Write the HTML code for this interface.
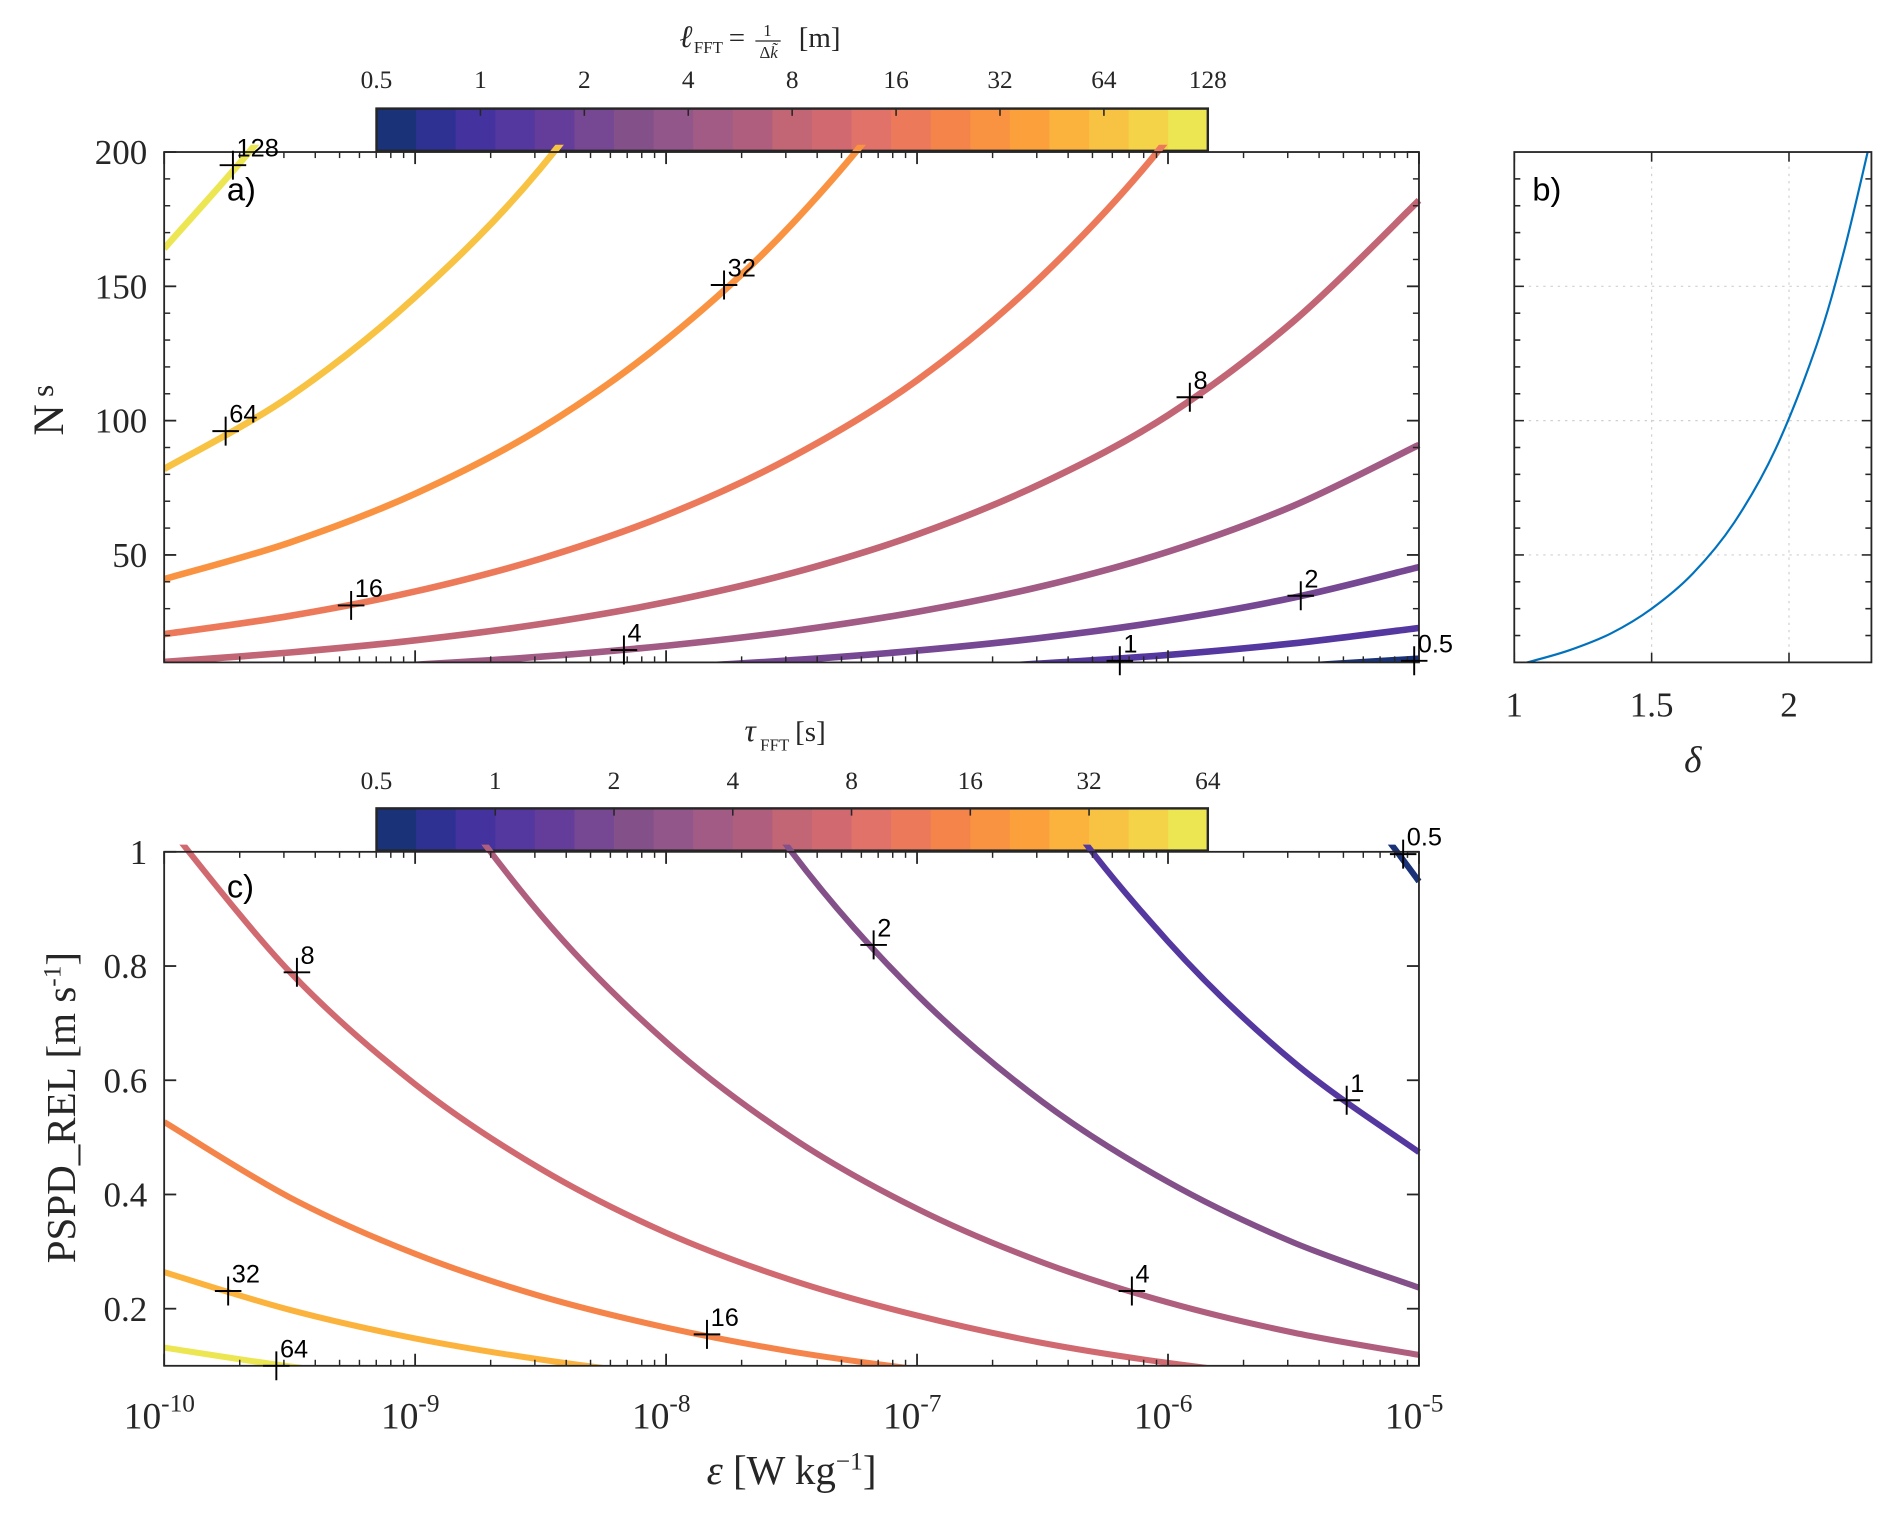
<!DOCTYPE html>
<html><head><meta charset="utf-8"><style>
html,body{margin:0;padding:0;background:#fff;}
svg{display:block;}
.serif{font-family:"Liberation Serif",serif;fill:#262626;}
.sans{font-family:"Liberation Sans",sans-serif;fill:#000;}
</style></head><body>
<svg id="fig" xmlns="http://www.w3.org/2000/svg" width="1892" height="1513" viewBox="0 0 1568 1254">
<rect x="0" y="0" width="1568" height="1254" fill="#fff"/>
<defs>
<clipPath id="clipA"><rect x="136" y="120" width="1044" height="429"/></clipPath>
<clipPath id="clipC"><rect x="136" y="700" width="1044" height="432"/></clipPath>
<clipPath id="clipB"><rect x="1255" y="126" width="296" height="423"/></clipPath>
</defs>
<g id="gA"></g>
<g id="gB"></g>
<g id="gC"></g>
</svg>
<script>
// ---------- data ----------
const epsLog = [-10,-9.5,-9,-8.5,-8,-7.5,-7,-6.5,-6,-5.5,-5];
const ellLevels = [0.5,1,2,4,8,16,32,64,128];
const nsL05 = [0.64,0.85,1.14,1.52,2.02,2.70,3.60,4.80,6.4,8.54,11.4];
const nsL1 = [1.28,1.71,2.28,3.03,4.05,5.40,7.20,9.60,12.8,17.1,22.8];
const nsL2 = [2.56,3.41,4.55,6.07,8.09,10.8,14.4,19.2,25.6,34.1,45.5];
const nsL4 = [5.12,6.83,9.10,12.1,16.2,21.6,28.8,38.4,51.2,68.3,91.0];
const nsL8 = [10.2,13.7,18.2,24.3,32.4,43.2,57.6,76.8,102,137,182];
const nsL16 = [20.5,27.3,36.4,48.6,64.8,86.4,115,154,205,273,364];
const nsL32 = [41,54.6,72.8,97.1,130,173,230,307,410,546,728];
const nsL64 = [82,109,146,194,259,346,461,615,820,1093,1458];
const nsL128 = [164,219,291,389,518,691,921,1229,1640,2187,2916];
const ellLabelEps = [-5.019,-6.192,-5.471,-8.168,-5.913,-9.255,-7.769,-9.755,-9.726];
const ellLabelNs = [10.6,10.6,34.8,14.6,108.7,31.2,150.5,96.1,195.1];

const tauLevels = [0.5,1,2,4,8,16,32,64];
const pL05 = [16.9,12.6,9.48,7.11,5.33,4.00,3.00,2.25,1.69,1.26,0.948];
const pL1 = [8.43,6.32,4.74,3.56,2.67,2.00,1.50,1.12,0.843,0.632,0.474];
const pL2 = [4.22,3.16,2.37,1.78,1.33,1.00,0.75,0.562,0.422,0.316,0.237];
const pL4 = [2.11,1.58,1.19,0.89,0.667,0.50,0.375,0.281,0.211,0.158,0.119];
const pL8 = [1.054,0.790,0.593,0.445,0.333,0.250,0.188,0.140,0.105,0.079,0.059];
const pL16 = [0.527,0.395,0.296,0.222,0.167,0.125,0.094,0.070,0.053,0.040,0.030];
const pL32 = [0.264,0.198,0.148,0.111,0.083,0.062,0.047,0.035,0.026,0.020,0.015];
const pL64 = [0.132,0.099,0.074,0.056,0.042,0.031,0.023,0.018,0.013,0.010,0.007];
const tauLabelEps = [-5.063,-5.288,-7.173,-6.144,-9.471,-7.837,-9.745,-9.553];
const tauLabelP = [0.996,0.565,0.837,0.231,0.789,0.155,0.231,0.1];

const deltaVals = [1.0,1.05,1.2,1.35,1.5,1.65,1.8,1.95,2.1,2.2,2.3];
const deltaNs = [9.2,10.1,14.5,20.7,30,43.1,62,89.2,128,163,206];

const cmap = ["#1a3278","#2e3192","#44329e","#54379f","#643d9b","#764893","#845089","#93568a","#a25b84","#b05e7e","#c26575","#d06a70","#e0726a","#ec7a5a","#f5844a","#f99342","#fba03b","#fbb33d","#f8c242","#f5d348","#ede653"];
const ellTicks = ["0.5","1","2","4","8","16","32","64","128"];
const tauTicks = ["0.5","1","2","4","8","16","32","64"];
const nsTicks = [50,100,150,200];
const pTicks = [0.2,0.4,0.6,0.8,1];
const deltaTicks = [1,1.5,2];

// ---------- helpers ----------
const NS='http://www.w3.org/2000/svg';
function mk(tag, attrs, parent){const e=document.createElementNS(NS,tag);for(const k in attrs)e.setAttribute(k,attrs[k]);parent.appendChild(e);return e;}
const X0=136,X1=1176;
const xEps = v => X0 + (v+10)/5*(X1-X0);
const yNs = v => 549 - (v-10)/190*(549-126);
const yP = v => 1132 - (v-0.1)/0.9*(1132-706);
const xDel = v => 1255 + (v-1)/1.3*(1551-1255);
function colorFor(v, lo, hi){const t=(Math.log2(v)-Math.log2(lo))/(Math.log2(hi)-Math.log2(lo));return cmap[Math.min(20,Math.max(0,Math.round(t*20)))];}
function smoothPath(P){
  let d='M'+P[0][0].toFixed(1)+','+P[0][1].toFixed(1);
  for(let i=0;i<P.length-1;i++){
    const p0=P[Math.max(0,i-1)],p1=P[i],p2=P[i+1],p3=P[Math.min(P.length-1,i+2)];
    const c1=[p1[0]+(p2[0]-p0[0])/6,p1[1]+(p2[1]-p0[1])/6];
    const c2=[p2[0]-(p3[0]-p1[0])/6,p2[1]-(p3[1]-p1[1])/6];
    d+=` C${c1[0].toFixed(1)},${c1[1].toFixed(1)} ${c2[0].toFixed(1)},${c2[1].toFixed(1)} ${p2[0].toFixed(1)},${p2[1].toFixed(1)}`;
  }
  return d;
}

const gA=document.getElementById('gA'), gB=document.getElementById('gB'), gC=document.getElementById('gC');

function logTicks(g, yTop, yBot){
  for(let d=-10; d<=-5; d++){
    const x=xEps(d);
    let t=mk('line',{x1:x,y1:yTop,x2:x,y2:yTop+10,stroke:'#262626','stroke-width':1.5},g);
    
    t=mk('line',{x1:x,y1:yBot,x2:x,y2:yBot-10,stroke:'#262626','stroke-width':1.5},g);
    
    if(d<-5){for(let m=2;m<=9;m++){const xm=xEps(d+Math.log10(m));
      let a=mk('line',{x1:xm,y1:yTop,x2:xm,y2:yTop+5,stroke:'#262626','stroke-width':1.2},g);
      
      a=mk('line',{x1:xm,y1:yBot,x2:xm,y2:yBot-5,stroke:'#262626','stroke-width':1.2},g);
      }}
  }
}
function yTicks(g, vals, fy, xl, xr, len){
  vals.forEach(v=>{const y=fy(v);
    let a=mk('line',{x1:xl,y1:y,x2:xl+len,y2:y,stroke:'#262626','stroke-width':1.5},g);
    
    a=mk('line',{x1:xr,y1:y,x2:xr-len,y2:y,stroke:'#262626','stroke-width':1.5},g);
    });
}
function marker(g,x,y,label){
  let a=mk('path',{d:`M${x-11},${y}H${x+11}M${x},${y-12}V${y+12}`,stroke:'#000','stroke-width':1.6,fill:'none'},g);
  
  a=mk('text',{x:x+3,y:y-7,'font-size':21,class:'sans'},g);a.textContent=label;
  
}
function colorbar(g, y0, labels, ly){
  const x0=312,x1=1001,w=(x1-x0)/21;
  cmap.forEach((c,i)=>{const r=mk('rect',{x:x0+i*w,y:y0,width:w+0.6,height:35,fill:c},g);
    });
  let b=mk('rect',{x:x0,y:y0,width:x1-x0,height:35,fill:'none',stroke:'#262626','stroke-width':2},g);
  
  const n=labels.length;
  labels.forEach((l,i)=>{const x=x0+i*(x1-x0)/(n-1);
    let t=mk('line',{x1:x,y1:y0,x2:x,y2:y0+6,stroke:'#262626','stroke-width':1.3},g);
    
    t=mk('text',{x:x,y:ly,'font-size':21,'text-anchor':'middle',class:'serif'},g);t.textContent=l;
    });
}

// ---------- panel a ----------
colorbar(gA,90,ellTicks,73);
const nsSeries=[nsL05,nsL1,nsL2,nsL4,nsL8,nsL16,nsL32,nsL64,nsL128];
const cgA=mk('g',{'clip-path':'url(#clipA)'},gA);
nsSeries.forEach((s,i)=>{
  const P=s.map((v,j)=>[xEps(epsLog[j]),yNs(v)]);
  const p=mk('path',{d:smoothPath(P),fill:'none',stroke:colorFor(ellLevels[i],0.5,128),'stroke-width':5.5,'stroke-linejoin':'round'},cgA);
  
});
let fa=mk('rect',{x:136,y:126,width:1040,height:423,fill:'none',stroke:'#262626','stroke-width':1.5},gA);

logTicks(gA,126,549);
yTicks(gA,nsTicks,yNs,136,1176,10);
[20,30,40,60,70,80,90,110,120,130,140,160,170,180,190].forEach(v=>{const y=yNs(v);
  let a=mk('line',{x1:136,y1:y,x2:141,y2:y,stroke:'#262626','stroke-width':1.2},gA);
  
  a=mk('line',{x1:1176,y1:y,x2:1171,y2:y,stroke:'#262626','stroke-width':1.2},gA);
  });
nsTicks.forEach(v=>{const t=mk('text',{x:122,y:yNs(v)+10,'font-size':29,'text-anchor':'end',class:'serif'},gA);t.textContent=v;
  });
ellLevels.forEach((l,i)=>marker(gA,xEps(ellLabelEps[i]),yNs(ellLabelNs[i]),String(l)));
let ta=mk('text',{x:188,y:166,'font-size':27,class:'sans'},gA);ta.textContent='a)';


// ---------- panel b ----------
const gridB=[1.5,2];
gridB.forEach(v=>{const l=mk('line',{x1:xDel(v),y1:126,x2:xDel(v),y2:549,stroke:'#d0d0d0','stroke-width':1,'stroke-dasharray':'2,4'},gB);
  });
[50,100,150].forEach(v=>{const l=mk('line',{x1:1255,y1:yNs(v),x2:1551,y2:yNs(v),stroke:'#d0d0d0','stroke-width':1,'stroke-dasharray':'2,4'},gB);
  });
const cgB=mk('g',{'clip-path':'url(#clipB)'},gB);
let pb=mk('path',{d:smoothPath(deltaVals.map((d,i)=>[xDel(d),yNs(deltaNs[i])])),fill:'none',stroke:'#0072bd','stroke-width':1.8},cgB);

let fb=mk('rect',{x:1255,y:126,width:296,height:423,fill:'none',stroke:'#262626','stroke-width':1.5},gB);

[20,30,40,50,60,70,80,90,100,110,120,130,140,150,160,170,180,190].forEach(v=>{const y=yNs(v);const L=(v%50===0)?8:5;
  let a=mk('line',{x1:1255,y1:y,x2:1255+L,y2:y,stroke:'#262626','stroke-width':1.3},gB);
  
  a=mk('line',{x1:1551,y1:y,x2:1551-L,y2:y,stroke:'#262626','stroke-width':1.3},gB);
  });
deltaTicks.forEach(v=>{const x=xDel(v);
  let a=mk('line',{x1:x,y1:549,x2:x,y2:541,stroke:'#262626','stroke-width':1.3},gB);
  
  a=mk('line',{x1:x,y1:126,x2:x,y2:134,stroke:'#262626','stroke-width':1.3},gB);
  
  const t=mk('text',{x:x,y:594,'font-size':29,'text-anchor':'middle',class:'serif'},gB);t.textContent=String(v);
  });
let dl=mk('text',{x:1403,y:640,'font-size':31,'text-anchor':'middle','font-style':'italic',class:'serif'},gB);dl.textContent='δ';

let tb=mk('text',{x:1270,y:166,'font-size':27,class:'sans'},gB);tb.textContent='b)';


// ---------- panel c ----------
colorbar(gC,670,tauTicks,654);
const pSeries=[pL05,pL1,pL2,pL4,pL8,pL16,pL32,pL64];
const cgC=mk('g',{'clip-path':'url(#clipC)'},gC);
pSeries.forEach((s,i)=>{
  const P=s.map((v,j)=>[xEps(epsLog[j]),yP(v)]);
  const p=mk('path',{d:smoothPath(P),fill:'none',stroke:colorFor(tauLevels[i],0.5,64),'stroke-width':5,'stroke-linejoin':'round'},cgC);
  
});
let fc=mk('rect',{x:136,y:706,width:1040,height:426,fill:'none',stroke:'#262626','stroke-width':1.5},gC);

logTicks(gC,706,1132);
yTicks(gC,pTicks,yP,136,1176,10);
pTicks.forEach(v=>{const t=mk('text',{x:122,y:yP(v)+10,'font-size':29,'text-anchor':'end',class:'serif'},gC);t.textContent=String(v);
  });
for(let d=-10; d<=-5; d++){const t=mk('text',{x:xEps(d)-4,y:1184,'font-size':31,'text-anchor':'middle',class:'serif'},gC);
  t.textContent='10';const s=mk('tspan',{dy:-14,'font-size':21},t);s.textContent=String(d);
  }
tauLevels.forEach((l,i)=>marker(gC,xEps(tauLabelEps[i]),yP(tauLabelP[i]),String(l)));
let tc=mk('text',{x:188,y:744,'font-size':27,class:'sans'},gC);tc.textContent='c)';

</script>
<svg style="position:absolute;left:0;top:0" width="1892" height="1513" viewBox="0 0 1568 1254">
<g font-family="Liberation Serif,serif" fill="#262626">
<text x="563" y="39" font-size="26" font-style="italic">ℓ</text>
<text x="575" y="44" font-size="14">FFT</text>
<text x="604" y="39" font-size="24">=</text>
<text x="636" y="30" font-size="14" text-anchor="middle">1</text>
<line x1="626" y1="34" x2="647" y2="34" stroke="#262626" stroke-width="1"/>
<text x="637" y="48" font-size="14" text-anchor="middle">Δ<tspan font-style="italic">k̃</tspan></text>
<text x="662" y="39" font-size="24">[m]</text>
</g>
<g font-family="Liberation Serif,serif" fill="#262626">
<text x="617" y="614" font-size="26" font-style="italic">τ</text>
<text x="630" y="622" font-size="14">FFT</text>
<text x="659" y="614" font-size="24">[s]</text>
</g>
<text transform="translate(52,340) rotate(-90)" text-anchor="middle" font-family="Liberation Serif,serif" font-size="36" fill="#262626">N<tspan font-size="26" dx="6" dy="-8">s</tspan></text>
<text transform="translate(62,918) rotate(-90)" text-anchor="middle" font-family="Liberation Serif,serif" font-size="34" fill="#262626">PSPD_REL [m s<tspan font-size="21" dy="-12">-1</tspan><tspan dy="12">]</tspan></text>
<text x="656" y="1230" text-anchor="middle" font-family="Liberation Serif,serif" font-size="34" fill="#262626"><tspan font-style="italic">ε</tspan> [W kg<tspan font-size="21" dy="-12">−1</tspan><tspan dy="12">]</tspan></text>
</svg>
</body></html>
